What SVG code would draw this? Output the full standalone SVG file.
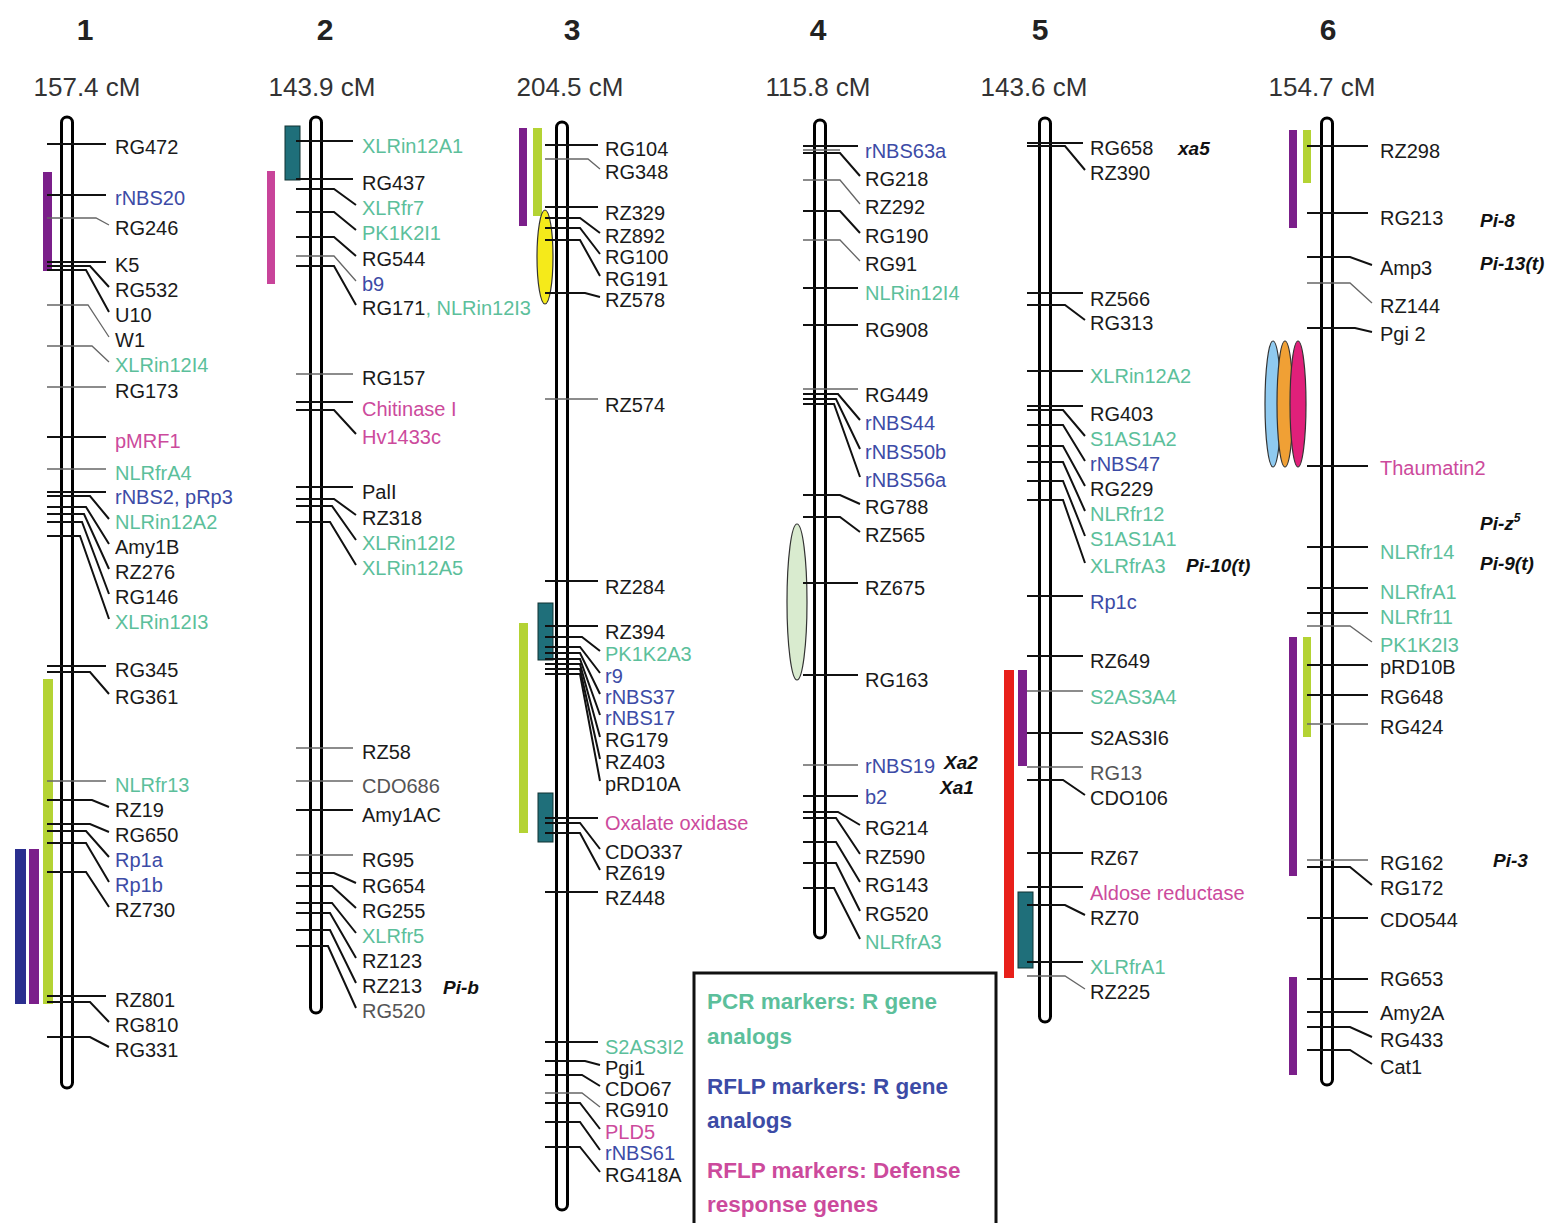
<svg xmlns="http://www.w3.org/2000/svg" width="1554" height="1223" viewBox="0 0 1554 1223">
<style>
.ch{fill:#fff;stroke:#000;stroke-width:3}
.m{fill:none;stroke:#111;stroke-width:2}
.t{fill:none;stroke:#666;stroke-width:1.3}
text{font-family:"Liberation Sans",Arial,sans-serif}
.lb{font-size:20px;fill:#1a1a1a}
.g{fill:#5cbf9b}
.b{fill:#3c4ba6}
.p{fill:#cc4a9c}
.gr{fill:#555}
.num{font-size:30px;font-weight:bold;fill:#222;text-anchor:middle}
.cm{font-size:26px;fill:#333;text-anchor:middle}
.gene{font-size:19px;font-weight:bold;font-style:italic;fill:#111}
.leg{font-size:22.5px;font-weight:bold}
.pur{fill:#7b1f8a}.yg{fill:#b4d334}.tl{fill:#1f6f7a;stroke:#133;stroke-width:1}.red{fill:#e8201a}.blu{fill:#2b2f8f}.pk{fill:#c8449a}
.el{stroke:#333;stroke-width:1.2}
</style>
<g id="headers">
<text class="num" x="85" y="40">1</text><text class="num" x="325" y="40">2</text><text class="num" x="572" y="40">3</text><text class="num" x="818" y="40">4</text><text class="num" x="1040" y="40">5</text><text class="num" x="1328" y="40">6</text>
<text class="cm" x="87" y="96">157.4 cM</text><text class="cm" x="322" y="96">143.9 cM</text><text class="cm" x="570" y="96">204.5 cM</text><text class="cm" x="818" y="96">115.8 cM</text><text class="cm" x="1034" y="96">143.6 cM</text><text class="cm" x="1322" y="96">154.7 cM</text>
</g>

<g id="chr1">
<rect class="pur" x="43" y="172" width="9" height="99"/>
<rect class="yg" x="43" y="679" width="10" height="325"/>
<rect class="blu" x="15" y="849" width="11" height="155"/>
<rect class="pur" x="29" y="849" width="10" height="155"/>
<rect class="ch" x="61.5" y="117" width="11" height="971" rx="5.5"/>
<g id="chr1-links">
<path class="m" d="M47,144H106"/><path class="m" d="M47,195H106"/><path class="t" d="M47,218H96L109,225"/><path class="m" d="M47,262H106"/>
<path class="m" d="M47,266H90L109,287"/><path class="m" d="M47,270H86L109,312"/><path class="t" d="M47,305H88L109,337"/><path class="t" d="M47,346H92L109,362"/>
<path class="t" d="M47,387H106"/><path class="m" d="M47,437H106"/><path class="t" d="M47,469H106"/><path class="m" d="M47,492H106"/>
<path class="m" d="M47,496H90L109,519"/><path class="m" d="M47,507H86L109,544"/><path class="m" d="M47,514H84L109,569"/><path class="m" d="M47,522H82L109,594"/><path class="m" d="M47,536H80L109,619"/>
<path class="m" d="M47,666H106"/><path class="m" d="M47,672H90L109,694"/><path class="t" d="M47,781H106"/><path class="m" d="M47,800H92L109,807"/>
<path class="m" d="M47,824H90L109,832"/><path class="m" d="M47,831H86L109,857"/><path class="m" d="M47,843H86L109,882"/><path class="m" d="M47,872H86L109,907"/>
<path class="m" d="M47,996H106"/><path class="m" d="M47,1002H90L109,1022"/><path class="m" d="M47,1037H90L109,1047"/>
</g>
<g class="lb">
<text x="115" y="154">RG472</text><text x="115" y="205" class="b">rNBS20</text><text x="115" y="235">RG246</text><text x="115" y="272">K5</text>
<text x="115" y="297">RG532</text><text x="115" y="322">U10</text><text x="115" y="347">W1</text><text x="115" y="372" class="g">XLRin12I4</text>
<text x="115" y="398">RG173</text><text x="115" y="448" class="p">pMRF1</text><text x="115" y="480" class="g">NLRfrA4</text><text x="115" y="504" class="b">rNBS2, pRp3</text>
<text x="115" y="529" class="g">NLRin12A2</text><text x="115" y="554">Amy1B</text><text x="115" y="579">RZ276</text><text x="115" y="604">RG146</text><text x="115" y="629" class="g">XLRin12I3</text>
<text x="115" y="677">RG345</text><text x="115" y="704">RG361</text><text x="115" y="792" class="g">NLRfr13</text><text x="115" y="817">RZ19</text>
<text x="115" y="842">RG650</text><text x="115" y="867" class="b">Rp1a</text><text x="115" y="892" class="b">Rp1b</text><text x="115" y="917">RZ730</text>
<text x="115" y="1007">RZ801</text><text x="115" y="1032">RG810</text><text x="115" y="1057">RG331</text>
</g>
</g>

<g id="chr2">
<rect class="tl" x="285" y="126" width="15" height="54"/>
<rect class="pk" x="267" y="171" width="8" height="113"/>
<rect class="ch" x="310.5" y="117" width="11" height="896" rx="5.5"/>
<g id="chr2-links">
<path class="m" d="M296,141H353"/><path class="m" d="M296,179H353"/><path class="m" d="M296,189H334L356,205"/><path class="m" d="M296,212H334L356,230"/>
<path class="m" d="M296,237H334L356,256"/><path class="t" d="M296,256H334L356,281"/><path class="m" d="M296,266H334L356,305"/><path class="t" d="M296,374H353"/>
<path class="m" d="M296,402H353"/><path class="m" d="M296,410H334L356,434"/><path class="m" d="M296,487H353"/><path class="m" d="M296,499H334L356,515"/>
<path class="m" d="M296,506H332L356,540"/><path class="m" d="M296,522H330L356,565"/><path class="t" d="M296,748H353"/><path class="t" d="M296,781H353"/>
<path class="m" d="M296,810H353"/><path class="t" d="M296,855H353"/><path class="m" d="M296,873H334L356,883"/><path class="m" d="M296,886H332L356,908"/>
<path class="m" d="M296,903H332L356,933"/><path class="m" d="M296,913H330L356,958"/><path class="m" d="M296,930H330L356,983"/><path class="m" d="M296,946H328L356,1008"/>
</g>
<g class="lb">
<text x="362" y="153" class="g">XLRin12A1</text><text x="362" y="190">RG437</text><text x="362" y="215" class="g">XLRfr7</text><text x="362" y="240" class="g">PK1K2I1</text>
<text x="362" y="266">RG544</text><text x="362" y="291" class="b">b9</text><text x="362" y="315">RG171<tspan class="g">, NLRin12I3</tspan></text><text x="362" y="385">RG157</text>
<text x="362" y="416" class="p">Chitinase I</text><text x="362" y="444" class="p">Hv1433c</text><text x="362" y="499">PalI</text><text x="362" y="525">RZ318</text>
<text x="362" y="550" class="g">XLRin12I2</text><text x="362" y="575" class="g">XLRin12A5</text><text x="362" y="759">RZ58</text><text x="362" y="793" class="gr">CDO686</text>
<text x="362" y="822">Amy1AC</text><text x="362" y="867">RG95</text><text x="362" y="893">RG654</text><text x="362" y="918">RG255</text>
<text x="362" y="943" class="g">XLRfr5</text><text x="362" y="968">RZ123</text><text x="362" y="993">RZ213</text><text x="362" y="1018" class="gr">RG520</text>
</g>
<text class="gene" x="443" y="994">Pi-b</text>
</g>

<g id="chr3">
<rect class="pur" x="519" y="128" width="8" height="98"/>
<rect class="yg" x="533" y="128" width="9" height="88"/>
<ellipse class="el" cx="545" cy="257" rx="8" ry="47" fill="#f5ea1a"/>
<rect class="tl" x="538" y="603" width="15" height="57"/>
<rect class="yg" x="519" y="623" width="9" height="210"/>
<rect class="tl" x="538" y="793" width="15" height="49"/>
<rect class="ch" x="556.5" y="122" width="11" height="1088" rx="5.5"/>
<g id="chr3-links">
<path class="m" d="M545,145H598"/><path class="t" d="M545,159H588L600,169"/><path class="m" d="M545,207H598"/><path class="m" d="M545,218H580L600,233"/>
<path class="m" d="M545,228H580L600,254"/><path class="m" d="M545,240H580L600,276"/><path class="m" d="M545,293H585L600,297"/><path class="t" d="M545,399H598"/>
<path class="m" d="M545,581H598"/><path class="m" d="M545,626H598"/><path class="m" d="M545,637H582L600,651"/><path class="m" d="M545,647H580L600,673"/>
<path class="m" d="M545,653H580L600,694"/><path class="m" d="M545,659H580L600,715"/><path class="m" d="M545,664H580L600,737"/><path class="m" d="M545,669H580L600,759"/>
<path class="m" d="M545,674H580L600,781"/><path class="m" d="M545,818H598"/><path class="m" d="M545,823H580L600,849"/><path class="m" d="M545,833H580L600,870"/>
<path class="m" d="M545,892H598"/><path class="m" d="M545,1042H598"/><path class="m" d="M545,1061H585L600,1065"/><path class="m" d="M545,1075H582L600,1086"/>
<path class="t" d="M545,1093H582L600,1107"/><path class="m" d="M545,1103H580L600,1129"/><path class="m" d="M545,1122H580L600,1150"/><path class="m" d="M545,1147H580L600,1172"/>
</g>
<g class="lb">
<text x="605" y="156">RG104</text><text x="605" y="179">RG348</text><text x="605" y="220">RZ329</text><text x="605" y="243">RZ892</text>
<text x="605" y="264">RG100</text><text x="605" y="286">RG191</text><text x="605" y="307">RZ578</text><text x="605" y="412">RZ574</text>
<text x="605" y="594">RZ284</text><text x="605" y="639">RZ394</text><text x="605" y="661" class="g">PK1K2A3</text><text x="605" y="683" class="b">r9</text>
<text x="605" y="704" class="b">rNBS37</text><text x="605" y="725" class="b">rNBS17</text><text x="605" y="747">RG179</text><text x="605" y="769">RZ403</text>
<text x="605" y="791">pRD10A</text><text x="605" y="830" class="p">Oxalate oxidase</text><text x="605" y="859">CDO337</text><text x="605" y="880">RZ619</text>
<text x="605" y="905">RZ448</text><text x="605" y="1054" class="g">S2AS3I2</text><text x="605" y="1075">Pgi1</text><text x="605" y="1096">CDO67</text>
<text x="605" y="1117">RG910</text><text x="605" y="1139" class="p">PLD5</text><text x="605" y="1160" class="b">rNBS61</text><text x="605" y="1182">RG418A</text>
</g>
</g>

<g id="chr4">
<ellipse class="el" cx="797" cy="602" rx="10" ry="78" fill="#d9ebcf"/>
<rect class="ch" x="814.5" y="120" width="11" height="818" rx="5.5"/>
<g id="chr4-links">
<path class="m" d="M803,146H858"/><path class="t" d="M803,150H840"/><path class="m" d="M803,153H840L860,176"/><path class="t" d="M803,180H840L860,204"/><path class="m" d="M803,211H840L860,233"/>
<path class="t" d="M803,240H840L860,261"/><path class="m" d="M803,288H858"/><path class="m" d="M803,325H858"/><path class="t" d="M803,389H858"/>
<path class="m" d="M803,394H838L860,420"/><path class="m" d="M803,399H836L860,449"/><path class="m" d="M803,404H834L860,477"/><path class="m" d="M803,495H840L860,504"/>
<path class="m" d="M803,517H840L860,532"/><path class="m" d="M803,583H858"/><path class="m" d="M803,675H858"/><path class="t" d="M803,765H858"/>
<path class="m" d="M803,796H858"/><path class="m" d="M803,812H838L860,825"/><path class="m" d="M803,818H836L860,854"/><path class="m" d="M803,842H836L860,882"/>
<path class="m" d="M803,863H836L860,911"/><path class="m" d="M803,888H834L860,939"/>
</g>
<g class="lb">
<text x="865" y="158" class="b">rNBS63a</text><text x="865" y="186">RG218</text><text x="865" y="214">RZ292</text><text x="865" y="243">RG190</text>
<text x="865" y="271">RG91</text><text x="865" y="300" class="g">NLRin12I4</text><text x="865" y="337">RG908</text><text x="865" y="402">RG449</text>
<text x="865" y="430" class="b">rNBS44</text><text x="865" y="459" class="b">rNBS50b</text><text x="865" y="487" class="b">rNBS56a</text><text x="865" y="514">RG788</text>
<text x="865" y="542">RZ565</text><text x="865" y="595">RZ675</text><text x="865" y="687">RG163</text><text x="865" y="773" class="b">rNBS19</text>
<text x="865" y="804" class="b">b2</text><text x="865" y="835">RG214</text><text x="865" y="864">RZ590</text><text x="865" y="892">RG143</text>
<text x="865" y="921">RG520</text><text x="865" y="949" class="g">NLRfrA3</text>
</g>
<text class="gene" x="944" y="769">Xa2</text><text class="gene" x="940" y="794">Xa1</text>
</g>

<g id="chr5">
<rect class="red" x="1004" y="670" width="10" height="308"/>
<rect class="pur" x="1018" y="670" width="9" height="96"/>
<rect class="tl" x="1018" y="892" width="15" height="76"/>
<rect class="ch" x="1039.5" y="118" width="11" height="904" rx="5.5"/>
<g id="chr5-links">
<path class="m" d="M1027,143H1083"/><path class="m" d="M1027,146H1065L1085,170"/><path class="m" d="M1027,293H1083"/><path class="m" d="M1027,305H1065L1085,320"/>
<path class="m" d="M1027,371H1083"/><path class="m" d="M1027,406H1083"/><path class="m" d="M1027,410H1063L1085,436"/><path class="m" d="M1027,425H1063L1085,461"/>
<path class="m" d="M1027,446H1063L1085,486"/><path class="m" d="M1027,462H1063L1085,511"/><path class="m" d="M1027,481H1063L1085,536"/><path class="m" d="M1027,500H1063L1085,563"/>
<path class="m" d="M1027,596H1083"/><path class="m" d="M1027,656H1083"/><path class="t" d="M1027,691H1083"/><path class="m" d="M1027,733H1083"/>
<path class="t" d="M1027,767H1083"/><path class="m" d="M1027,780H1063L1085,795"/><path class="m" d="M1027,853H1083"/><path class="m" d="M1027,887H1083"/>
<path class="m" d="M1027,905H1065L1085,915"/><path class="m" d="M1027,962H1083"/><path class="t" d="M1027,976H1065L1085,989"/>
</g>
<g class="lb">
<text x="1090" y="155">RG658</text><text x="1090" y="180">RZ390</text><text x="1090" y="306">RZ566</text><text x="1090" y="330">RG313</text>
<text x="1090" y="383" class="g">XLRin12A2</text><text x="1090" y="421">RG403</text><text x="1090" y="446" class="g">S1AS1A2</text><text x="1090" y="471" class="b">rNBS47</text>
<text x="1090" y="496">RG229</text><text x="1090" y="521" class="g">NLRfr12</text><text x="1090" y="546" class="g">S1AS1A1</text><text x="1090" y="573" class="g">XLRfrA3</text>
<text x="1090" y="609" class="b">Rp1c</text><text x="1090" y="668">RZ649</text><text x="1090" y="704" class="g">S2AS3A4</text><text x="1090" y="745">S2AS3I6</text>
<text x="1090" y="780" class="gr">RG13</text><text x="1090" y="805">CDO106</text><text x="1090" y="865">RZ67</text><text x="1090" y="900" class="p">Aldose reductase</text>
<text x="1090" y="925">RZ70</text><text x="1090" y="974" class="g">XLRfrA1</text><text x="1090" y="999">RZ225</text>
</g>
<text class="gene" x="1178" y="155">xa5</text><text class="gene" x="1186" y="572">Pi-10(t)</text>
</g>

<g id="chr6">
<rect class="pur" x="1289" y="130" width="8" height="98"/>
<rect class="yg" x="1303" y="130" width="8" height="53"/>
<ellipse class="el" cx="1273" cy="404" rx="8" ry="63" fill="#8fcaf0"/>
<ellipse class="el" cx="1285" cy="404" rx="8" ry="63" fill="#f0a035"/>
<ellipse class="el" cx="1298" cy="404" rx="8" ry="63" fill="#e0207a"/>
<rect class="pur" x="1289" y="637" width="8" height="239"/>
<rect class="yg" x="1303" y="637" width="8" height="100"/>
<rect class="pur" x="1289" y="977" width="8" height="98"/>
<rect class="ch" x="1321.5" y="118" width="11" height="967" rx="5.5"/>
<g id="chr6-links">
<path class="m" d="M1307,146H1368"/><path class="m" d="M1307,213H1368"/><path class="m" d="M1307,257H1350L1372,265"/><path class="t" d="M1307,283H1350L1372,303"/>
<path class="m" d="M1307,328H1355L1372,332"/><path class="m" d="M1307,466H1368"/><path class="m" d="M1307,547H1368"/><path class="m" d="M1307,588H1368"/>
<path class="m" d="M1307,613H1368"/><path class="t" d="M1307,626H1350L1372,642"/><path class="m" d="M1307,665H1368"/><path class="m" d="M1307,695H1368"/>
<path class="t" d="M1307,724H1368"/><path class="t" d="M1307,860H1368"/><path class="m" d="M1307,867H1350L1372,885"/><path class="m" d="M1307,918H1368"/>
<path class="m" d="M1307,979H1368"/><path class="m" d="M1307,1012H1368"/><path class="m" d="M1307,1027H1350L1372,1037"/><path class="m" d="M1307,1050H1350L1372,1064"/>
</g>
<g class="lb">
<text x="1380" y="158">RZ298</text><text x="1380" y="225">RG213</text><text x="1380" y="275">Amp3</text><text x="1380" y="313">RZ144</text>
<text x="1380" y="341">Pgi 2</text><text x="1380" y="475" class="p">Thaumatin2</text><text x="1380" y="559" class="g">NLRfr14</text><text x="1380" y="599" class="g">NLRfrA1</text>
<text x="1380" y="624" class="g">NLRfr11</text><text x="1380" y="652" class="g">PK1K2I3</text><text x="1380" y="674">pRD10B</text><text x="1380" y="704">RG648</text>
<text x="1380" y="734">RG424</text><text x="1380" y="870">RG162</text><text x="1380" y="895">RG172</text><text x="1380" y="927">CDO544</text>
<text x="1380" y="986">RG653</text><text x="1380" y="1020">Amy2A</text><text x="1380" y="1047">RG433</text><text x="1380" y="1074">Cat1</text>
</g>
<text class="gene" x="1480" y="227">Pi-8</text><text class="gene" x="1480" y="270">Pi-13(t)</text>
<text class="gene" x="1480" y="530">Pi-z<tspan font-size="12" dy="-8">5</tspan></text>
<text class="gene" x="1480" y="570">Pi-9(t)</text><text class="gene" x="1493" y="867">Pi-3</text>
</g>

<g id="legend">
<rect x="694" y="973" width="302" height="256" fill="#fff" stroke="#111" stroke-width="3"/>
<text class="leg g" x="707" y="1009">PCR markers: R gene</text>
<text class="leg g" x="707" y="1044">analogs</text>
<text class="leg b" x="707" y="1094">RFLP markers: R gene</text>
<text class="leg b" x="707" y="1128">analogs</text>
<text class="leg p" x="707" y="1178">RFLP markers: Defense</text>
<text class="leg p" x="707" y="1212">response genes</text>
</g>
</svg>
